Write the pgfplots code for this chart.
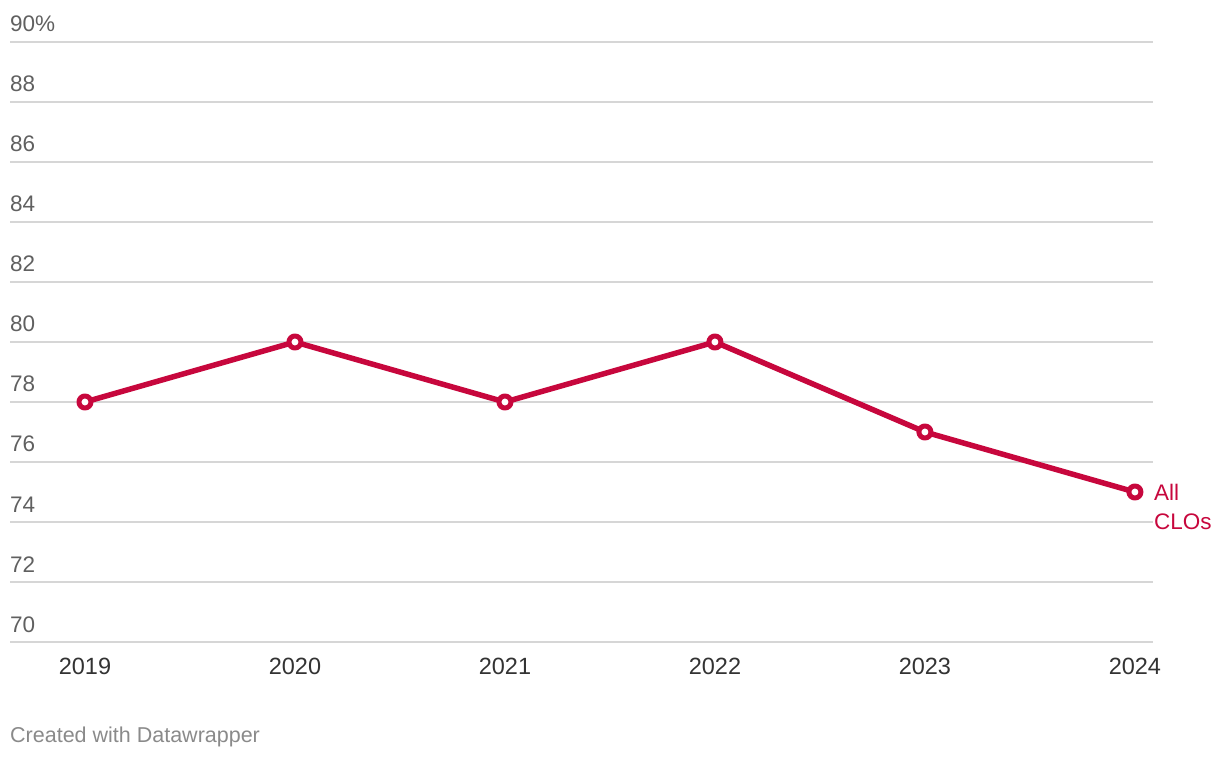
\documentclass[border=0pt]{standalone}
\usepackage{fontspec}
\setmainfont{Liberation Sans}
\usepackage{pgfplots}
\pgfplotsset{compat=1.18}
\definecolor{crim}{HTML}{C7073D}
\definecolor{gridc}{HTML}{D6D6D6}
\definecolor{ylab}{HTML}{606060}
\definecolor{xlab}{HTML}{333333}
\definecolor{foot}{HTML}{8A8A8A}
\begin{document}
\begin{tikzpicture}[x=1pt,y=1pt]
\useasboundingbox (0,0) rectangle (1220,758);
\begin{axis}[
  at={(10pt,116pt)}, anchor=south west,
  scale only axis, width=1143pt, height=600pt,
  xmin=2018.643, xmax=2024.086,
  ymin=70, ymax=90,
  axis line style={draw=none},
  major tick length=0pt,
  xtick={2019,2020,2021,2022,2023,2024},
  xticklabels={2019,2020,2021,2022,2023,2024},
  ytick={70,72,74,76,78,80,82,84,86,88,90},
  yticklabels={70,72,74,76,78,80,82,84,86,88,90\%},
  ymajorgrids, grid style={draw=gridc, line width=1.6pt},
  /pgf/number format/assume math mode=true,
  xticklabel style={font=\fontsize{23.5}{27}\selectfont, text=xlab, anchor=north, inner sep=0pt, yshift=-16pt},
  yticklabel style={font=\fontsize{22.5}{26}\selectfont, text=ylab, anchor=base west, inner sep=0pt, yshift=10pt},
  clip=false,
]
\addplot[color=crim, line width=5.5pt, line join=round, mark=*, mark size=6pt,
  mark options={fill=white, draw=crim, line width=5pt}]
  coordinates {(2019,78) (2020,80) (2021,78) (2022,80) (2023,77) (2024,75)};
\node[anchor=base west, inner sep=0pt, text=crim, font=\fontsize{22.5}{26}\selectfont] at ([shift={(19pt,-8pt)}]axis cs:2024,75) {All};
\node[anchor=base west, inner sep=0pt, text=crim, font=\fontsize{22.5}{26}\selectfont] at ([shift={(19pt,-37pt)}]axis cs:2024,75) {CLOs};
\end{axis}
\node[anchor=base west, inner sep=0pt, text=foot, font=\fontsize{21.5}{25}\selectfont] at (10,16) {Created with Datawrapper};
\end{tikzpicture}
\end{document}
